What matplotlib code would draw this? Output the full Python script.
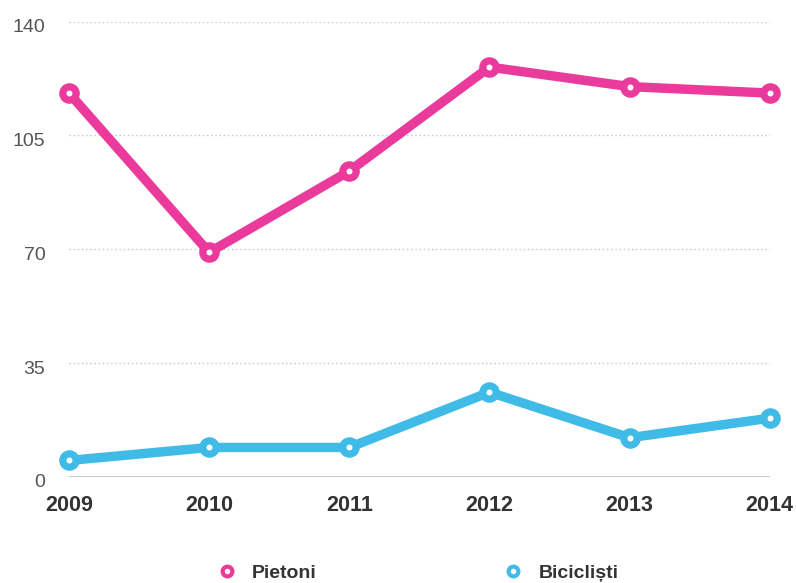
import matplotlib
matplotlib.use("Agg")
import matplotlib.pyplot as plt
import matplotlib.transforms as mtransforms
from matplotlib.lines import Line2D
import numpy as np

plt.rcParams["font.family"] = ["Liberation Sans", "DejaVu Sans"]

years = ["2009", "2010", "2011", "2012", "2013", "2014"]
pietoni = [118, 69, 94, 126, 120, 118]
biciclisti = [5, 9, 9, 26, 12, 18]
y_ticks = [0, 35, 70, 105, 140]

PINK = "#EA3A9B"
BLUE = "#40BBE8"

fig = plt.figure(figsize=(7.96, 5.83), dpi=100)
ax = fig.add_axes([0.0867, 0.1823, 0.8803, 0.7807])

x = np.arange(len(years))
for vals, col in ((pietoni, PINK), (biciclisti, BLUE)):
    ax.plot(x, vals, color=col, lw=6.8, marker="o", ms=9.6, mew=5.2,
            mfc="white", mec=col, clip_on=False, zorder=3,
            solid_capstyle="round", solid_joinstyle="round")

ax.set_xlim(0, len(years) - 1)
ax.set_ylim(0, 140)
ax.set_yticks(y_ticks)
ax.set_xticks(x)
ax.set_xticklabels(years)

for t in y_ticks[1:]:
    ax.axhline(t, color="#c4c4c4", lw=1, ls=(0, (1, 2)), zorder=1)
ax.axhline(0, color="#bdbdbd", lw=1.2, zorder=1)

for s in ax.spines.values():
    s.set_visible(False)
ax.tick_params(axis="both", length=0)
ax.tick_params(axis="y", labelsize=14, labelcolor="#555555", pad=17)
ax.tick_params(axis="x", labelsize=15.5, labelcolor="#333333", pad=13)
for lab in ax.get_xticklabels():
    lab.set_fontweight("bold")
# nudge y labels slightly below their gridlines
shift = mtransforms.ScaledTranslation(0, -3 / 72, fig.dpi_scale_trans)
for lab in ax.get_yticklabels():
    lab.set_transform(lab.get_transform() + shift)

handles = [
    Line2D([], [], ls="none", marker="o", ms=7, mew=3, mfc="white", mec=PINK),
    Line2D([], [], ls="none", marker="o", ms=7, mew=3, mfc="white", mec=BLUE),
]
leg = fig.legend(handles, ["Pietoni", "Bicicliști"], ncol=2, loc="center",
                 bbox_to_anchor=(0.525, 0.017), frameon=False,
                 prop={"size": 14, "weight": "bold"}, handlelength=1,
                 handletextpad=0.8, columnspacing=9.6)
for t in leg.get_texts():
    t.set_color("#333333")

fig.savefig("out.png", dpi=100)
